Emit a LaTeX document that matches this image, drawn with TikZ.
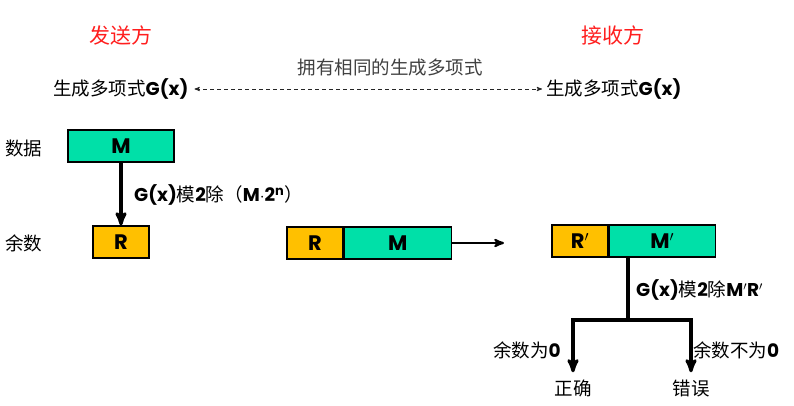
\documentclass[tikz,border=0pt]{standalone}
\usepackage{fontspec}
\setmainfont{Noto Sans CJK SC}
\newfontfamily\enfont{Poppins}
\usepackage{xcolor}
\usetikzlibrary{calc}
\usetikzlibrary{arrows}
\usetikzlibrary{positioning}
\definecolor{mgreen}{RGB}{0,224,168}
\definecolor{rorange}{RGB}{255,192,0}
\definecolor{side}{RGB}{255,30,30}
\newcommand{\en}[1]{{\enfont\bfseries #1}}
\tikzset{
  databox/.style={draw=black, line width=1.3pt, minimum height=32pt, inner sep=0pt, font=\fontsize{21}{21}\selectfont},
  mbox/.style={databox, fill=mgreen},
  rbox/.style={databox, fill=rorange},
  lbl/.style={inner sep=1pt, font=\fontsize{18.5}{18.5}\selectfont},
}

\begin{document}
\begin{tikzpicture} [x=1pt, y=-1pt]
\useasboundingbox (0,0) rectangle (794,405);
% sender and receiver
\node[text=side, font=\fontsize{21}{21}\selectfont] (send) at (121,35) {发送方};
\node[text=side, font=\fontsize{21}{21}\selectfont] (recv) at (613,35) {接收方};
\node[lbl, text=black!75] (same) at (390,67) {拥有相同的生成多项式};
\node[lbl, anchor=west] (gxl) at (52,89) {生成多项式\en{G(x)}};
\node[lbl, anchor=west] (gxr) at (545,89) {生成多项式\en{G(x)}};
\draw[black!85, dash pattern=on 4pt off 3pt, <->, >=stealth', line width=0.9pt] ($(gxl.east)+(5,0)$) -- ($(gxr.west)+(-3,0)$);
% sender side
\node[lbl, anchor=west] (data) at (4,148) {数据};
\node[lbl, anchor=west] (rem) at (4,243) {余数};
\node[mbox, minimum width=106pt] (m) at (121,146) {\en{M}};
\node[rbox, minimum width=56pt] (r) at (121,242) {\en{R}};
\draw[black, line width=3.2pt, ->, >=stealth'] (m.south) -- (r.north);
\node[lbl, anchor=west] (div) at (133,195) {\en{G(x)}模\en{2}除（\en{M}$\cdot$\en{2\textsuperscript{n}}）};
% frame sent
\node[rbox, minimum width=56pt] (fr) at (315,243) {\en{R}};
\node[mbox, minimum width=107pt, right=0pt of fr] (fm) {\en{M}};
\draw[black, line width=2.2pt, ->, >=stealth'] (fm.east) -- ++(52,0) coordinate (out);
% receiver side
\node[rbox, minimum width=56pt] (rr) at (580,241) {\en{R$'$}};
\node[mbox, minimum width=106pt, right=0pt of rr] (rm) {\en{M$'$}};
\coordinate (split) at (628,320);
\coordinate (top) at (rr.south east -| split);
\draw[black, line width=3.2pt] (top) -- (split);
\node[lbl, anchor=west] (chk) at (635,290) {\en{G(x)}模\en{2}除\en{M$'$R$'$}};
\node[lbl] (ok) at (573,388) {正确};
\node[lbl] (err) at (691,388) {错误};
\draw[black, line width=3.2pt, ->, >=stealth', shorten >=6pt] (split) -| (ok.north);
\draw[black, line width=3.2pt, ->, >=stealth', shorten >=6pt] (split) -| (err.north);
\node[lbl, anchor=east] (zero) at (562,350) {余数为\en{0}};
\node[lbl, anchor=west] (nzero) at (692,350) {余数不为\en{0}};
\end{tikzpicture}
\end{document}
